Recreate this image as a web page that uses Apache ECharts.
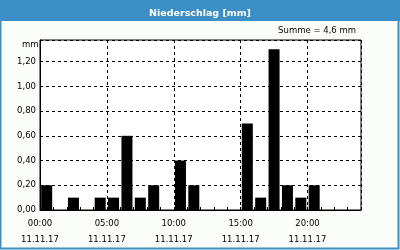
<!DOCTYPE html>
<html><head><meta charset="utf-8">
<script src="https://cdn.jsdelivr.net/npm/echarts@6/dist/echarts.min.js"></script>
<style>html,body{margin:0;padding:0;background:#fbfdfb}#c{width:400px;height:250px}</style>
</head><body><div id="c"></div>
<script>
const hours = ['00','01','02','03','04','05','06','07','08','09','10','11','12','13','14','15','16','17','18','19','20','21','22','23'];
const precipitation = [0.2,0,0.1,0,0.1,0.1,0.6,0.1,0.2,0,0.4,0.2,0,0,0,0.7,0.1,1.3,0.2,0.1,0.2,0,0,0];
const dateLabel = '11.11.17';
const titleText = 'Niederschlag [mm]';
const sumText = 'Summe = 4,6 mm';
const unitText = 'mm';

const F = 'DejaVu Sans';
const chart = echarts.init(document.getElementById('c'), null, {renderer:'canvas'});
chart.setOption({
  animation:false,
  backgroundColor:'#fbfdfb',
  title:{text:titleText, left:'center', top:4, textStyle:{color:'#fff', fontFamily:F, fontWeight:'bold', fontSize:9.5}},
  graphic:[
    {type:'rect', z:-1, shape:{x:0,y:0,width:400,height:21}, style:{fill:'#3b8fc6'}},
    {type:'rect', z:-1, shape:{x:0.5,y:0.5,width:398,height:248}, style:{fill:'none', stroke:'#3b8fc6', lineWidth:2}},
    {type:'text', right:44, top:26, style:{text:sumText, fill:'#000', font:'8.5px "DejaVu Sans"'}},
    {type:'text', left:22, top:40, style:{text:unitText, fill:'#000', font:'8.5px "DejaVu Sans"'}}
  ],
  grid:{left:40, top:40, right:39, bottom:40, show:true, borderColor:'#000', borderWidth:1, backgroundColor:'#fff'},
  xAxis:[
    {type:'category', data:hours, boundaryGap:true,
     axisLine:{lineStyle:{color:'#000'}},
     axisTick:{show:true, inside:true, length:3, interval:0, lineStyle:{color:'#000'}},
     axisLabel:{show:false}, splitLine:{show:false}},
    {type:'value', min:0, max:24, interval:5, position:'bottom',
     axisLine:{show:false}, axisTick:{show:false},
     axisLabel:{showMaxLabel:false, color:'#000', fontFamily:F, fontSize:8.5, lineHeight:16, margin:6,
       formatter:v=>String(v).padStart(2,'0')+':00\n'+dateLabel},
     splitLine:{show:true, lineStyle:{color:'#000', type:[3,3]}}}
  ],
  yAxis:{type:'value', min:0, max:1.375, interval:0.2,
    axisLine:{show:true, lineStyle:{color:'#000'}}, axisTick:{show:false},
    axisLabel:{showMaxLabel:false, color:'#000', fontFamily:F, fontSize:8.5, margin:4,
      formatter:v=>v.toFixed(2).replace('.',',')},
    splitLine:{show:true, lineStyle:{color:'#000', type:[3,3]}}},
  series:[{type:'bar', xAxisIndex:0, data:precipitation, barWidth:11, itemStyle:{color:'#000'}}]
});
</script></body></html>
